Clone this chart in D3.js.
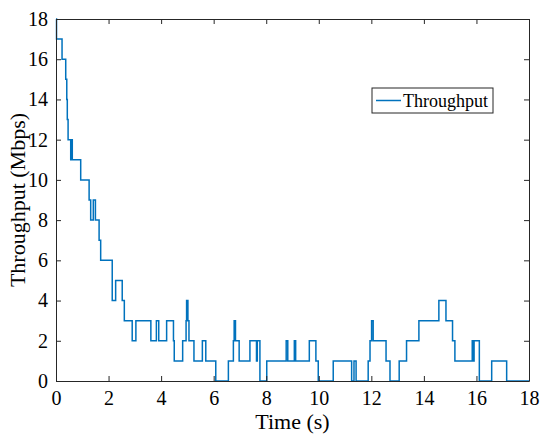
<!DOCTYPE html>
<html lang="en">
<head>
    <meta charset="UTF-8">
    <title>Throughput</title>
    <style>
        body{
            margin: 0;
            background: #ffffff;
        }
        svg{
            display: block;
        }
        .throughput{
            fill: none;
            stroke: #0072bd;
            stroke-width: 1.5px;
        }
    </style>
    <script src="https://cdn.jsdelivr.net/npm/d3@7"></script>
</head>
<body>
<script>

    // step start times (s) and the throughput value held from that time on (Mbps)
    const stepTimes = [0, 0.02, 0.23, 0.37, 0.41, 0.43, 0.46, 0.56, 0.59, 0.62, 0.94, 1.26, 1.32, 1.42, 1.50,
        1.64, 1.70, 2.14, 2.27, 2.52, 2.60, 2.90, 3.04, 3.61, 3.82, 3.91, 4.21, 4.47, 4.50, 4.82, 4.95, 4.97,
        5.02, 5.06, 5.25, 5.57, 5.70, 6.08, 6.56, 6.75, 6.78, 6.83, 6.97, 7.38, 7.63, 7.66, 7.76, 8.02, 8.76,
        8.82, 9.07, 9.12, 9.64, 9.89, 9.98, 10.55, 11.25, 11.34, 11.42, 11.88, 11.95, 12.01, 12.07, 12.56,
        12.71, 13.06, 13.34, 13.81, 14.57, 14.84, 15.09, 15.18, 15.84, 15.88, 15.91, 16.11, 16.58, 17.15, 18];
    const throughput = [18, 17, 16, 15, 14, 13, 12, 11, 12, 11, 10, 9, 8, 9, 8,
        7, 6, 4, 5, 4, 3, 2, 3, 2, 3, 2, 3, 2, 1, 2, 3, 4,
        3, 2, 1, 2, 1, 0, 1, 2, 3, 2, 1, 2, 1, 2, 0, 1, 2,
        1, 2, 1, 2, 1, 0, 1, 0, 1, 0, 1, 2, 3, 2, 1,
        0, 1, 2, 3, 4, 3, 2, 1, 2, 1, 2, 0, 1, 0, 0];

    const xTicks = [0, 2, 4, 6, 8, 10, 12, 14, 16, 18];
    const yTicks = [0, 2, 4, 6, 8, 10, 12, 14, 16, 18];
    const seriesName = "Throughput";

    const width = 540;
    const height = 435;
    const margins = {top: 19, right: 11, bottom: 54, left: 56};
    const serif = "'Liberation Serif', 'Times New Roman', 'DejaVu Serif', serif";

    const svg = d3.select("body").append("svg")
        .attr("width", width)
        .attr("height", height)
        .attr("viewBox", `0,0,${width},${height}`);

    const x = d3.scaleLinear().domain([0, 18]).range([margins.left, width - margins.right]);
    const y = d3.scaleLinear().domain([0, 18]).range([height - margins.bottom, margins.top]);

    const data = stepTimes.map((t, i) => ({t: t, v: throughput[i]}));

    // the data line, clipped to the axes box
    svg.append("clipPath").attr("id", "plotClip")
        .append("rect")
        .attr("x", x(0) - 1).attr("y", y(18) - 1)
        .attr("width", x(18) - x(0) + 2).attr("height", y(0) - y(18) + 2);

    const lineGen = d3.line()
        .x(d => x(d.t))
        .y(d => y(d.v))
        .curve(d3.curveStepAfter);

    svg.append("path")
        .datum(data)
        .attr("class", "throughput")
        .attr("clip-path", "url(#plotClip)")
        .attr("d", lineGen);

    /* ------------- axes: box with ticks pointing in ----------------- */
    const tickLen = 5;
    const axisColor = "#262626";

    const gBottom = svg.append("g").attr("transform", `translate(0,${y(0)})`)
        .call(d3.axisBottom(x).tickValues(xTicks).tickSizeInner(-tickLen).tickSizeOuter(0).tickPadding(10));
    const gTop = svg.append("g").attr("transform", `translate(0,${y(18)})`)
        .call(d3.axisTop(x).tickValues(xTicks).tickSizeInner(-tickLen).tickSizeOuter(0).tickFormat(""));
    const gLeft = svg.append("g").attr("transform", `translate(${x(0)},0)`)
        .call(d3.axisLeft(y).tickValues(yTicks).tickSizeInner(-tickLen).tickSizeOuter(0).tickPadding(8));
    const gRight = svg.append("g").attr("transform", `translate(${x(18)},0)`)
        .call(d3.axisRight(y).tickValues(yTicks).tickSizeInner(-tickLen).tickSizeOuter(0).tickFormat(""));

    [gBottom, gTop, gLeft, gRight].forEach(g => {
        g.attr("font-family", serif).attr("font-size", 20);
        g.select(".domain").attr("stroke", axisColor).attr("stroke-width", 1);
        g.selectAll(".tick line").attr("stroke", axisColor).attr("stroke-width", 1);
        g.selectAll(".tick text").attr("fill", "#000");
    });

    // axis titles
    svg.append("text")
        .attr("font-family", serif)
        .attr("font-size", 22)
        .attr("text-anchor", "middle")
        .attr("x", (x(0) + x(18)) / 2)
        .attr("y", 429)
        .text("Time (s)");

    svg.append("text")
        .attr("font-family", serif)
        .attr("font-size", 22)
        .attr("text-anchor", "middle")
        .attr("transform", `translate(25,${(y(0) + y(18)) / 2}) rotate(-90)`)
        .text("Throughput (Mbps)");

    /* ------------- legend ----------------- */
    const legend = svg.append("g").attr("transform", "translate(372,88)");
    legend.append("rect")
        .attr("width", 121)
        .attr("height", 25)
        .attr("fill", "#fff")
        .attr("stroke", axisColor)
        .attr("stroke-width", 1);
    legend.append("line")
        .attr("x1", 4).attr("x2", 29)
        .attr("y1", 12.5).attr("y2", 12.5)
        .attr("class", "throughput");
    legend.append("text")
        .attr("font-family", serif)
        .attr("font-size", 18)
        .attr("x", 31)
        .attr("y", 18.5)
        .text(seriesName);

</script>
</body>
</html>
